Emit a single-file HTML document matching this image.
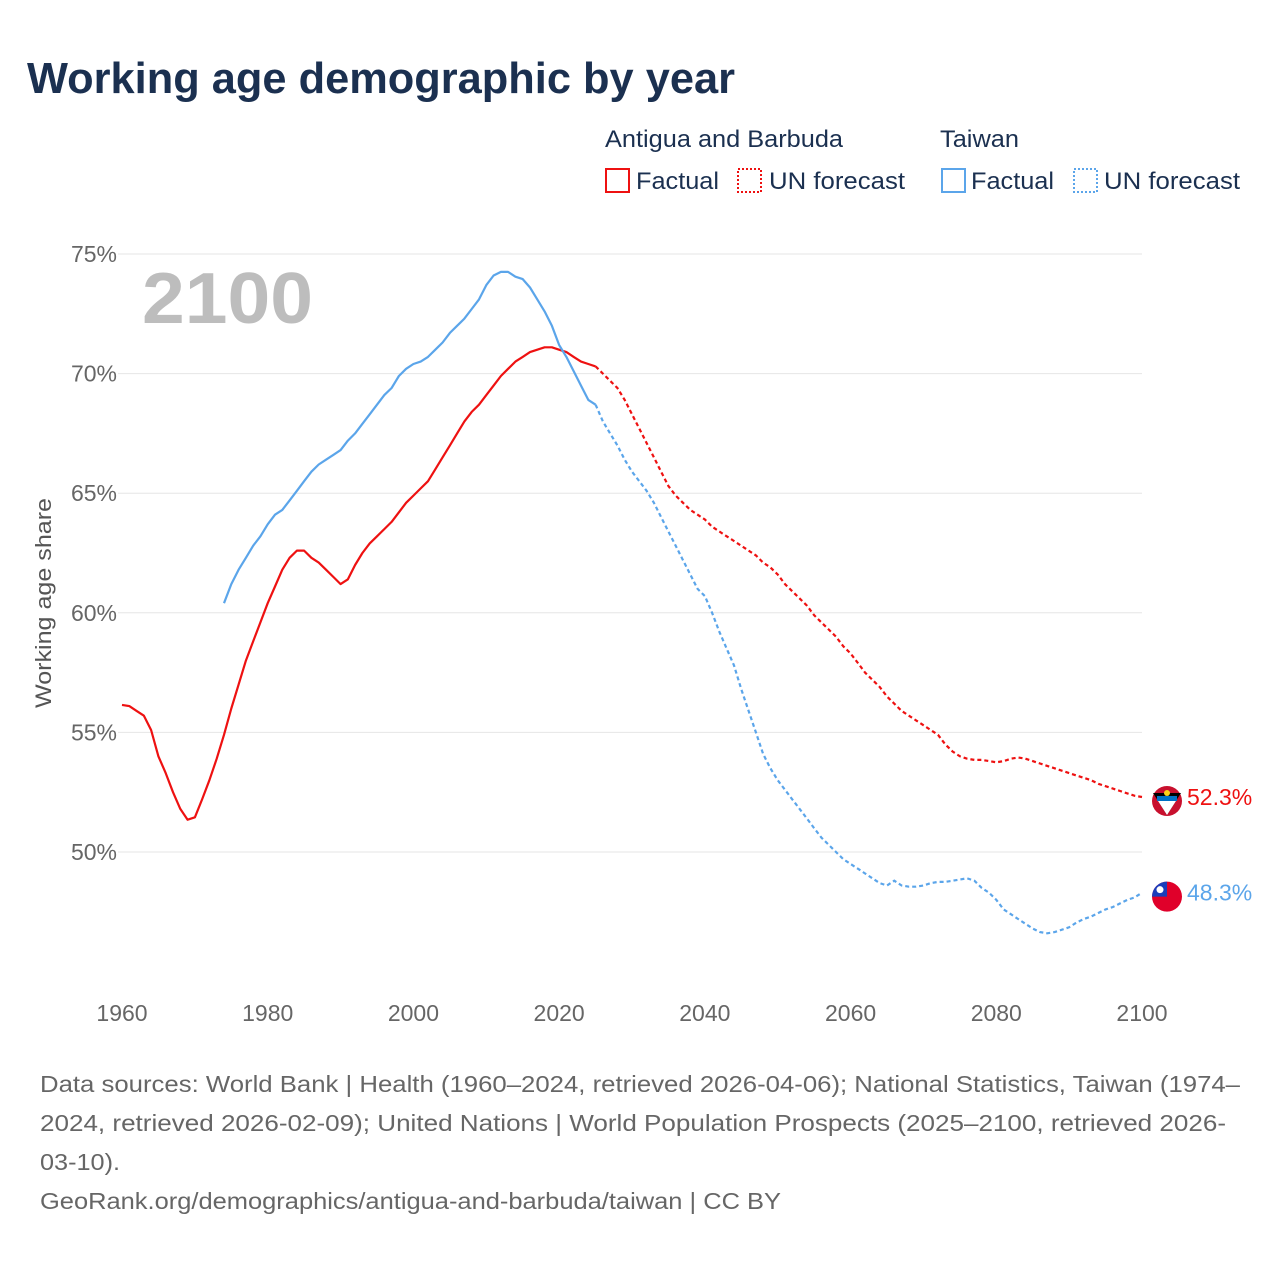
<!DOCTYPE html>
<html><head><meta charset="utf-8">
<style>
body{margin:0;background:#fff;font-family:"Liberation Sans",sans-serif;}
#wrap{position:relative;width:1280px;height:1280px;overflow:hidden;}
</style></head>
<body>
<div id="wrap">
<svg id="chart" width="1280" height="1280" xmlns="http://www.w3.org/2000/svg">
<text x="27" y="93" font-size="44" font-weight="bold" fill="#1b3050" textLength="708" lengthAdjust="spacingAndGlyphs">Working age demographic by year</text>
<g font-size="24" fill="#1b3050">
<text x="605" y="147" textLength="238" lengthAdjust="spacingAndGlyphs">Antigua and Barbuda</text>
<text x="940" y="147" textLength="79" lengthAdjust="spacingAndGlyphs">Taiwan</text>
<g><rect x="606" y="169" width="23" height="23" fill="none" stroke="#ee1111" stroke-width="2"/><text x="636" y="189" textLength="83" lengthAdjust="spacingAndGlyphs">Factual</text></g>
<g><rect x="738" y="169" width="23" height="23" fill="none" stroke="#ee1111" stroke-width="2" stroke-dasharray="2,2"/><text x="769" y="189" textLength="136" lengthAdjust="spacingAndGlyphs">UN forecast</text></g>
<g><rect x="942" y="169" width="23" height="23" fill="none" stroke="#5ba5ea" stroke-width="2"/><text x="971" y="189" textLength="83" lengthAdjust="spacingAndGlyphs">Factual</text></g>
<g><rect x="1074" y="169" width="23" height="23" fill="none" stroke="#5ba5ea" stroke-width="2" stroke-dasharray="2,2"/><text x="1104" y="189" textLength="136" lengthAdjust="spacingAndGlyphs">UN forecast</text></g>
</g>
<text x="142" y="323" font-size="72" font-weight="bold" fill="#bdbdbd" textLength="171" lengthAdjust="spacingAndGlyphs">2100</text>
<g id="grid"></g>
<g id="marks"></g>
<text transform="translate(51,603) rotate(-90)" text-anchor="middle" font-size="22" fill="#555" textLength="210" lengthAdjust="spacingAndGlyphs">Working age share</text>
<g font-size="23" fill="#666">
<text x="40" y="1092" textLength="1200" lengthAdjust="spacingAndGlyphs">Data sources: World Bank | Health (1960–2024, retrieved 2026-04-06); National Statistics, Taiwan (1974–</text>
<text x="40" y="1131" textLength="1186" lengthAdjust="spacingAndGlyphs">2024, retrieved 2026-02-09); United Nations | World Population Prospects (2025–2100, retrieved 2026-</text>
<text x="40" y="1170" textLength="80" lengthAdjust="spacingAndGlyphs">03-10).</text>
<text x="40" y="1209" textLength="741" lengthAdjust="spacingAndGlyphs">GeoRank.org/demographics/antigua-and-barbuda/taiwan | CC BY</text>
</g>
</svg>
</div>
<script>
const yTicks=[50,55,60,65,70,75];
const xTicks=[1960,1980,2000,2020,2040,2060,2080,2100];
const agStart=1960;
const agValues=[56.15,56.1,55.9,55.7,55.1,54.0,53.3,52.5,51.8,51.35,51.45,52.2,53.0,53.9,54.9,56.0,57.0,58.0,58.8,59.6,60.4,61.1,61.8,62.3,62.6,62.6,62.3,62.1,61.8,61.5,61.2,61.4,62.0,62.5,62.9,63.2,63.5,63.8,64.2,64.6,64.9,65.2,65.5,66.0,66.5,67.0,67.5,68.0,68.4,68.7,69.1,69.5,69.9,70.2,70.5,70.7,70.9,71.0,71.1,71.1,71.0,70.9,70.7,70.5,70.4,70.3,
70.0,69.7,69.4,68.9,68.3,67.7,67.1,66.5,65.9,65.3,64.9,64.6,64.3,64.1,63.9,63.6,63.4,63.2,63.0,62.8,62.6,62.4,62.1,61.9,61.6,61.2,60.9,60.6,60.3,59.9,59.6,59.3,59.0,58.6,58.3,57.9,57.5,57.2,56.9,56.5,56.2,55.9,55.7,55.5,55.3,55.1,54.9,54.5,54.2,54.0,53.9,53.85,53.85,53.8,53.75,53.8,53.9,53.95,53.9,53.8,53.7,53.6,53.5,53.4,53.3,53.2,53.1,53.0,52.85,52.75,52.65,52.55,52.45,52.35,52.3];
const twStart=1974;
const twValues=[60.4,61.2,61.8,62.3,62.8,63.2,63.7,64.1,64.3,64.7,65.1,65.5,65.9,66.2,66.4,66.6,66.8,67.2,67.5,67.9,68.3,68.7,69.1,69.4,69.9,70.2,70.4,70.5,70.7,71.0,71.3,71.7,72.0,72.3,72.7,73.1,73.7,74.1,74.25,74.25,74.05,73.95,73.6,73.1,72.6,72.0,71.2,70.7,70.1,69.5,68.9,68.7,
68.0,67.5,67.0,66.4,65.9,65.5,65.1,64.6,64.0,63.4,62.8,62.2,61.6,61.0,60.7,60.0,59.2,58.5,57.8,56.8,55.9,55.0,54.1,53.5,53.0,52.6,52.2,51.8,51.4,51.0,50.6,50.3,50.0,49.7,49.5,49.3,49.1,48.9,48.7,48.6,48.8,48.6,48.55,48.55,48.6,48.7,48.75,48.75,48.8,48.85,48.9,48.8,48.5,48.3,48.0,47.6,47.4,47.2,47.0,46.8,46.65,46.6,46.65,46.75,46.85,47.05,47.2,47.3,47.45,47.6,47.7,47.85,48.0,48.1,48.3];
const forecastStart=2025;
const endLabels=["52.3%","48.3%"];

const X=y=>122+(y-1960)*(1020/140);
const Y=v=>852-(v-50)*(598/25);
const NS="http://www.w3.org/2000/svg";
const grid=document.getElementById('grid'),marks=document.getElementById('marks');
function mk(tag,attrs,parent){const e=document.createElementNS(NS,tag);for(const k in attrs)e.setAttribute(k,attrs[k]);parent.appendChild(e);return e;}
yTicks.forEach(t=>{
  const l=mk('line',{x1:118,x2:1142,y1:Y(t),y2:Y(t),stroke:'#e6e6e6','stroke-width':1},grid);
  
  
  const tx=mk('text',{x:117,y:Y(t)+8,'text-anchor':'end','font-size':23,fill:'#666'},grid);
  tx.textContent=t+'%';
  
  
});
xTicks.forEach(t=>{
  const tx=mk('text',{x:X(t),y:1021,'text-anchor':'middle','font-size':23,fill:'#666'},grid);
  tx.textContent=t;
  
  
});
function series(start,vals,color,name){
  let fact=[],fc=[];
  vals.forEach((v,i)=>{const yr=start+i;const p=X(yr).toFixed(1)+','+Y(v).toFixed(1);if(yr<=forecastStart)fact.push(p);if(yr>=forecastStart)fc.push(p);});
  const a=mk('polyline',{points:fact.join(' '),fill:'none',stroke:color,'stroke-width':2.2,'stroke-linejoin':'round'},marks);
  
  
  const b=mk('polyline',{points:fc.join(' '),fill:'none',stroke:color,'stroke-width':2.2,'stroke-dasharray':'4,3'},marks);
  
  
}
series(agStart,agValues,'#ee1111','antigua');
series(twStart,twValues,'#5ba5ea','taiwan');
const agLast=agValues[agValues.length-1],twLast=twValues[twValues.length-1];
const f1=mk('g',{},marks);


mk('circle',{cx:1167,cy:Y(agLast)+4,r:15,fill:'#c8102e'},f1);
mk('path',{d:`M1153 ${Y(agLast)-4} L1181 ${Y(agLast)-4} L1167 ${Y(agLast)+18} Z`,fill:'#000'},f1);
mk('path',{d:`M1158 ${Y(agLast)+4} L1176 ${Y(agLast)+4} L1167 ${Y(agLast)+18} Z`,fill:'#fff'},f1);
mk('rect',{x:1157,y:Y(agLast)-1,width:20,height:5,fill:'#0072c6'},f1);
mk('circle',{cx:1167,cy:Y(agLast)-4,r:3,fill:'#fcd116'},f1);
const f2=mk('g',{},marks);


mk('circle',{cx:1167,cy:Y(twLast)+4,r:15,fill:'#e0002a'},f2);
mk('path',{d:`M1152 ${Y(twLast)+4} A15 15 0 0 1 1167 ${Y(twLast)-11} L1167 ${Y(twLast)+4} Z`,fill:'#1a3dbb'},f2);
mk('circle',{cx:1160,cy:Y(twLast)-3,r:3.5,fill:'#fff'},f2);
const l1=mk('text',{x:1187,y:Y(agLast)+8,'font-size':23,fill:'#ee1111'},marks);
l1.textContent=endLabels[0];


const l2=mk('text',{x:1187,y:Y(twLast)+8,'font-size':23,fill:'#5ba5ea'},marks);
l2.textContent=endLabels[1];


</script>
</body></html>
